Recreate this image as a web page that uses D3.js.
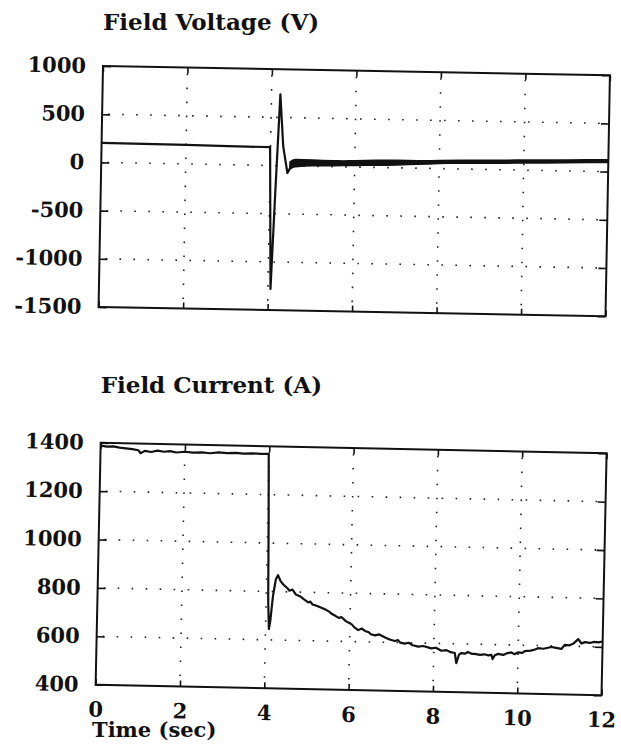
<!DOCTYPE html>
<html>
<head>
<meta charset="utf-8">
<script src="https://cdn.jsdelivr.net/npm/d3@7"></script>
<style>
    body { margin: 0; background: #fff; }
    svg { display: block; }
    text { font-family: "DejaVu Serif", serif; fill: #111; }
</style>
</head>
<body>
<svg id="chart" width="621" height="746"></svg>
<script>
const timeTicks = [0, 2, 4, 6, 8, 10, 12];
const voltTicks = [-1500, -1000, -500, 0, 500, 1000];
const currTicks = [400, 600, 800, 1000, 1200, 1400];

// field voltage (V)
const voltTime = [0, 1, 2, 3, 3.99, 4.06, 4.13, 4.21, 4.3, 4.41, 4.5, 4.65, 5, 5.5, 6, 6.5, 7, 7.5, 8, 9, 10, 11, 12];
const voltValue = [203, 200, 197, 193, 190, -1280, -300, 740, 200, -75, 0, 30, 35, 35, 40, 48, 55, 60, 70, 80, 90, 100, 110];

// the thick ripple band after the fault
const bandTime = [4.45, 4.6, 5.0, 5.5, 6.0, 6.5, 7.0, 7.5, 8.0, 9.0, 10.0, 11.0, 12.0];
const bandUpper = [45, 75, 72, 68, 72, 82, 85, 85, 92, 102, 112, 122, 132];
const bandLower = [-45, -15, -2, 2, 8, 14, 22, 32, 45, 55, 65, 78, 88];

// field current (A)
const currTime = [0, 0.15, 0.3, 0.45, 0.6, 0.75, 0.9, 0.95, 1.05, 1.2, 1.35, 1.5, 1.65, 1.8, 2.0, 2.2, 2.4, 2.6, 2.8, 3.0, 3.2, 3.4, 3.6, 3.8, 3.99,
    4.02, 4.05, 4.08, 4.11, 4.16, 4.22, 4.27, 4.33, 4.4, 4.5, 4.55, 4.62, 4.7, 4.8, 4.9, 5.0, 5.05, 5.1, 5.2, 5.3, 5.41, 5.5, 5.57, 5.65, 5.73, 5.8, 5.9, 5.97,
    6.05, 6.1, 6.2, 6.28, 6.36, 6.45, 6.5, 6.6, 6.7, 6.84, 6.95, 7.07, 7.15, 7.2, 7.31, 7.4, 7.5, 7.63, 7.75, 7.94,
    8.05, 8.18, 8.3, 8.4, 8.5, 8.54, 8.6, 8.65, 8.75, 8.81, 8.9, 8.97, 9.1, 9.2, 9.3, 9.37, 9.4, 9.45, 9.53, 9.65, 9.75, 9.84, 9.92, 9.99,
    10.1, 10.16, 10.3, 10.4, 10.47, 10.6, 10.79, 10.9, 11.03, 11.1, 11.2, 11.3, 11.42, 11.5, 11.58, 11.7, 11.8, 11.9, 12];
const currValue = [1388, 1384, 1386, 1381, 1379, 1376, 1372, 1360, 1370, 1366, 1372, 1368, 1371, 1366, 1370, 1367, 1369, 1366, 1370, 1368, 1370, 1367, 1369, 1368, 1368,
    1100, 760, 645, 680, 780, 850, 868, 845, 830, 815, 805, 810, 790, 783, 770, 758, 762, 750, 745, 738, 730, 722, 712, 705, 697, 700, 684, 678,
    670, 660, 648, 655, 645, 640, 632, 628, 632, 620, 612, 606, 610, 600, 596, 600, 590, 585, 588, 579,
    582, 570, 573, 565, 562, 520, 555, 562, 560, 567, 560, 560, 556, 559, 555, 557, 540, 556, 562, 558, 566, 569, 562, 570,
    568, 576, 578, 583, 589, 587, 595, 592, 588, 605, 603, 610, 630, 612, 618, 615, 620, 618, 622];

const svg = d3.select("#chart");

function drawPanel(opts) {
    const g = svg.append("g")
        .attr("transform", `translate(${opts.left},${opts.top}) rotate(${opts.angle})`);

    const x = d3.scaleLinear().domain([0, 12]).range([0, opts.width]);
    const y = d3.scaleLinear().domain(d3.extent(opts.ticks)).range([opts.height, 0]);

    // dotted grid
    g.append("g").selectAll("line")
        .data(timeTicks.slice(1, -1))
        .join("line")
        .attr("x1", d => x(d)).attr("x2", d => x(d))
        .attr("y1", 0).attr("y2", opts.height)
        .attr("stroke", "#222").attr("stroke-width", 1.6)
        .attr("stroke-dasharray", "1.6,12.4").attr("stroke-dashoffset", -6);

    g.append("g").selectAll("line")
        .data(opts.ticks.slice(1, -1))
        .join("line")
        .attr("x1", 0).attr("x2", opts.width)
        .attr("y1", d => y(d)).attr("y2", d => y(d))
        .attr("stroke", "#222").attr("stroke-width", 1.6)
        .attr("stroke-dasharray", "1.6,12.4").attr("stroke-dashoffset", -6);

    const left = g.append("g")
        .call(d3.axisLeft(y).tickValues(opts.ticks).tickSize(-8).tickPadding(17)
            .tickFormat(d => String(d)));
    left.selectAll("text").style("font-size", "21px").style("font-weight", "bold");

    g.append("g").attr("transform", `translate(${opts.width},0)`)
        .call(d3.axisRight(y).tickValues(opts.ticks).tickSize(-8).tickFormat(""));

    g.append("g")
        .call(d3.axisTop(x).tickValues(timeTicks).tickSize(-6).tickFormat(""));

    const bottom = g.append("g").attr("transform", `translate(0,${opts.height})`)
        .call(d3.axisBottom(x).tickValues(timeTicks).tickSize(-6).tickPadding(17)
            .tickFormat(opts.timeLabels ? d => String(d) : ""));
    bottom.selectAll("text").style("font-size", "21px").style("font-weight", "bold");

    g.selectAll(".domain").remove();
    g.selectAll(".tick line").attr("stroke", "#111").attr("stroke-width", 1.6);

    g.append("rect")
        .attr("width", opts.width).attr("height", opts.height)
        .attr("fill", "none").attr("stroke", "#111").attr("stroke-width", 2);

    if (opts.band) {
        g.append("path")
            .datum(opts.band.time)
            .attr("fill", "#111")
            .attr("d", d3.area()
                .x(d => x(d))
                .y0((d, i) => y(opts.band.lower[i]))
                .y1((d, i) => y(opts.band.upper[i]))
                .curve(d3.curveMonotoneX));
    }

    g.append("path")
        .datum(opts.time)
        .attr("fill", "none")
        .attr("stroke", "#111")
        .attr("stroke-width", 2.2)
        .attr("stroke-linejoin", "round")
        .attr("d", d3.line()
            .x(d => x(d))
            .y((d, i) => y(opts.values[i])));

    svg.append("text")
        .attr("x", opts.left).attr("y", opts.titleY)
        .style("font-size", "23px").style("font-weight", "bold")
        .text(opts.title);
}

drawPanel({
    title: "Field Voltage (V)", titleY: 30,
    left: 103, top: 66, width: 507, height: 241, angle: 1.05,
    ticks: voltTicks, time: voltTime, values: voltValue,
    band: { time: bandTime, upper: bandUpper, lower: bandLower },
    timeLabels: false
});

drawPanel({
    title: "Field Current (A)", titleY: 393,
    left: 100.7, top: 442.7, width: 506, height: 242, angle: 1.2,
    ticks: currTicks, time: currTime, values: currValue,
    timeLabels: true
});

svg.append("text")
    .attr("x", 92).attr("y", 737)
    .style("font-size", "21px").style("font-weight", "bold")
    .text("Time (sec)");
</script>
</body>
</html>
